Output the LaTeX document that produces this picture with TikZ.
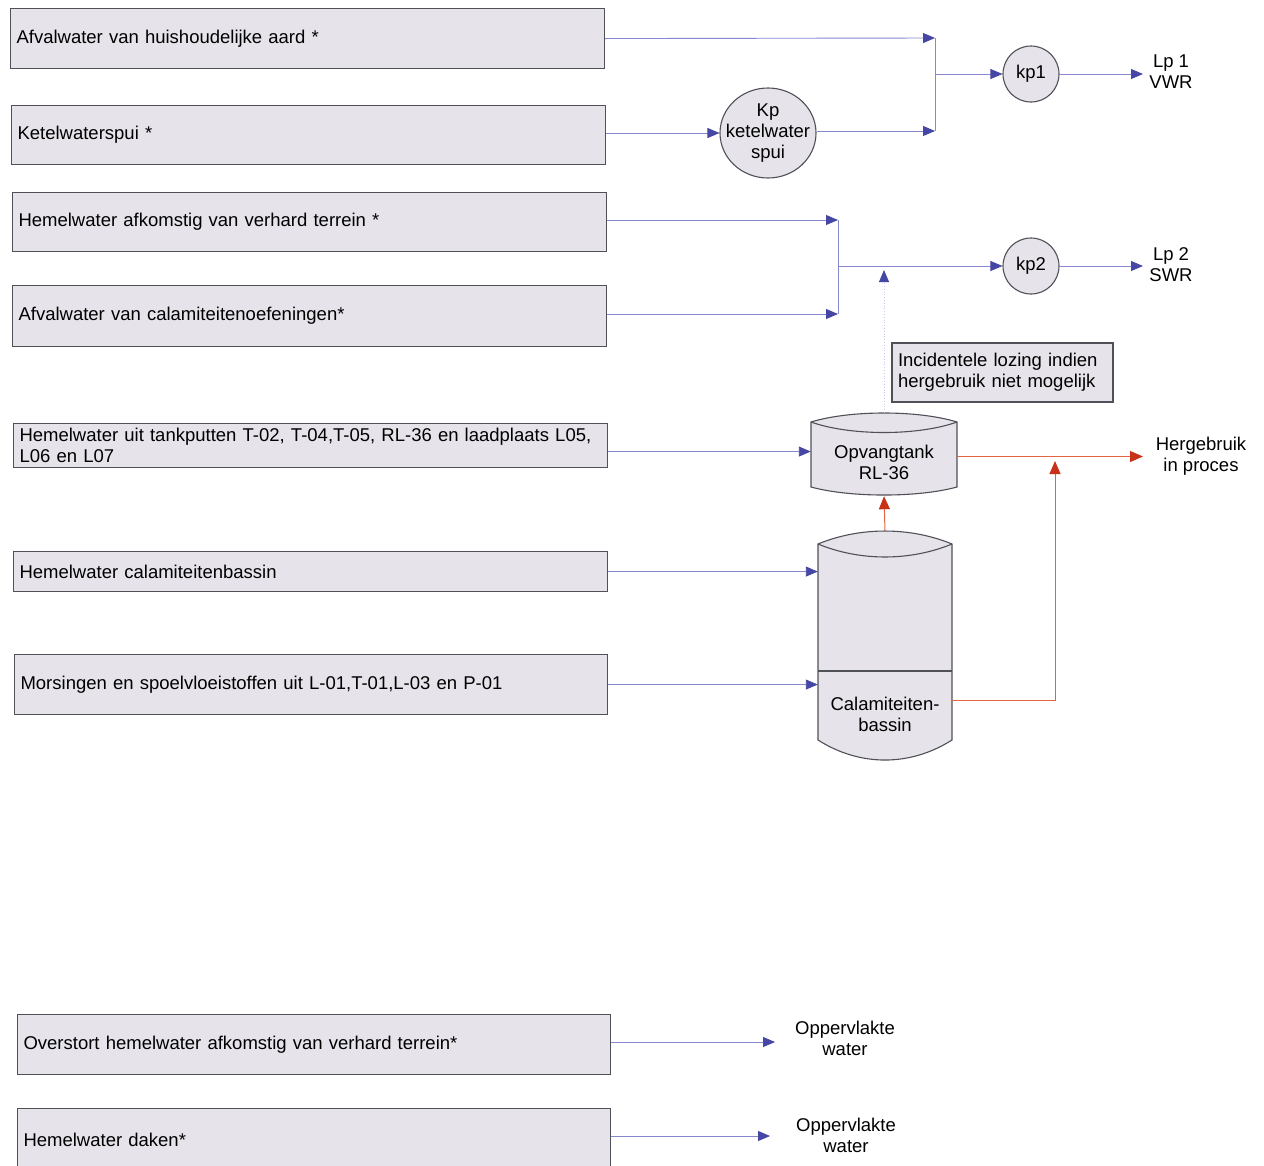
\documentclass[tikz,border=0pt]{standalone}
\usepackage{fontspec}
\setmainfont{Liberation Sans}
\usetikzlibrary{arrows.meta,shapes.geometric}
\definecolor{boxfill}{RGB}{230,228,234}
\definecolor{boxline}{RGB}{80,80,88}
\definecolor{flowline}{RGB}{135,135,210}
\definecolor{tipblue}{RGB}{70,70,165}
\definecolor{redline}{RGB}{228,100,65}
\definecolor{redtip}{RGB}{200,50,25}
\tikzset{
  txt/.style={font=\fontsize{18.5}{21}\selectfont},
  srcbox/.style={txt, draw=boxline, fill=boxfill, line width=1.1pt, anchor=north west,
    align=left, inner xsep=6pt, inner ysep=0pt},
  pit/.style={txt, draw=boxline, fill=boxfill, line width=1.1pt, inner sep=0pt, align=center},
  lbl/.style={txt, align=center, inner sep=0pt},
  tankarea/.style={inner sep=0pt},
  tankbody/.style={draw=boxline, fill=boxfill, line width=1.1pt},
  flow/.style={draw=flowline, line width=0.9pt, -{Triangle[length=12pt,width=10pt,color=tipblue]}},
  plainline/.style={draw=flowline, line width=0.9pt},
  reuse/.style={draw=redline, line width=1pt, -{Triangle[length=13pt,width=11pt,color=redtip]}},
  faint/.style={draw=flowline!45, dotted, line width=0.8pt, -{Triangle[length=12pt,width=10pt,color=tipblue]}},
}
\begin{document}
\begin{tikzpicture}[x=1pt,y=-1pt]
\useasboundingbox[fill=white] (0,0) rectangle (1264,1165);

% source boxes
\node[srcbox, text width=582pt, minimum height=60pt] (b1) at (10,8) {Afvalwater van huishoudelijke aard *};
\node[srcbox, text width=582pt, minimum height=59pt] (b2) at (11,105) {Ketelwaterspui *};
\node[srcbox, text width=582pt, minimum height=59pt] (b3) at (12,192) {Hemelwater afkomstig van verhard terrein *};
\node[srcbox, text width=582pt, minimum height=61pt] (b4) at (12,285) {Afvalwater van calamiteitenoefeningen*};
\node[srcbox, text width=582pt, minimum height=44pt] (b5) at (13,423) {Hemelwater uit tankputten T-02, T-04,T-05, RL-36 en laadplaats L05,\\L06 en L07};
\node[srcbox, text width=582pt, minimum height=40pt] (b6) at (13,551) {Hemelwater calamiteitenbassin};
\node[srcbox, text width=581pt, minimum height=60pt] (b7) at (14,654) {Morsingen en spoelvloeistoffen uit L-01,T-01,L-03 en P-01};
\node[srcbox, text width=581pt, minimum height=60pt] (b8) at (17,1014) {Overstort hemelwater afkomstig van verhard terrein*};
\node[srcbox, text width=581pt, minimum height=62pt] (b9) at (17,1108) {Hemelwater daken*};

% pits
\node[pit, ellipse, inner xsep=-10pt, inner ysep=0pt, minimum width=96pt, minimum height=90pt] (kp) at (768,133) {Kp\\ketelwater\\spui};
\node[pit, circle, minimum size=56pt] (kp1) at (1031,74) {kp1};
\node[pit, circle, minimum size=56pt] (kp2) at (1031,266) {kp2};

% note
\node[txt, draw=boxline, fill=boxfill, line width=1.1pt, align=left, inner xsep=6pt, inner ysep=0pt,
      text width=209pt, minimum height=59pt] (note) at (1002.5,372.5) {Incidentele lozing indien\\hergebruik niet mogelijk};

% tanks
\path[tankbody] (811,422) .. controls (850,410) and (918,410) .. (957,422) -- (957,487)
  .. controls (918,497.7) and (850,497.7) .. (811,487) -- cycle;
\draw[boxline, line width=1.1pt] (811,422) .. controls (850,436) and (918,436) .. (957,422);
\node[tankarea, minimum width=146pt, minimum height=83pt] (opv) at (884,454.5) {};
\node[lbl] (opvtxt) at (884,462) {Opvangtank\\RL-36};

\path[tankbody] (818,544) .. controls (860,526.7) and (910,526.7) .. (952,544) -- (952,740)
  .. controls (910,766.7) and (860,766.7) .. (818,740) -- cycle;
\draw[boxline, line width=1.1pt] (818,544) .. controls (860,561.3) and (910,561.3) .. (952,544);
\draw[boxline, line width=1.1pt] (818,671) -- (952,671);
\node[tankarea, minimum width=134pt, minimum height=229pt] (cal) at (885,645.5) {};
\node[lbl] (caltxt) at (885,714) {Calamiteiten-\\bassin};

% labels
\node[lbl] (lp1) at (1171,72) {Lp 1\\VWR};
\node[lbl] (lp2) at (1171,265) {Lp 2\\SWR};
\node[lbl] (hgb) at (1201,456) {Hergebruik\\in proces};
\node[lbl] (ow1) at (845,1038) {Oppervlakte\\water};
\node[lbl] (ow2) at (846,1135) {Oppervlakte\\water};

% junction / tip coordinates
\coordinate (j1a) at (935,38);
\coordinate (j1b) at (935,131);
\coordinate (j1m) at (935,74);
\coordinate (j2a) at (838,220);
\coordinate (j2b) at (838,314);
\coordinate (j2m) at (838,266);
\coordinate (t1) at (1143,74);
\coordinate (t2) at (1143,266);
\coordinate (t3) at (1143,456.5);
\coordinate (t4) at (775,1042);
\coordinate (t5) at (770,1136);
\coordinate (ntip) at (884,270);
\coordinate (r1) at (1055,700);
\coordinate (r2) at (1055,461);

% blue flows
\draw[flow] (b1.east) -- (j1a);
\draw[flow] (b2.east |- kp.west) -- (kp.west);
\draw[flow] (kp.east |- j1b) -- (j1b);
\draw[plainline] (j1a) -- (j1b);
\draw[flow] (j1m) -- (kp1.west);
\draw[flow] (kp1.east) -- (t1);

\draw[flow] (b3.east |- j2a) -- (j2a);
\draw[flow] (b4.east |- j2b) -- (j2b);
\draw[plainline] (j2a) -- (j2b);
\draw[flow] (j2m) -- (kp2.west);
\draw[flow] (kp2.east) -- (t2);
\draw[faint] (opv.north) -- (ntip);

\draw[flow] ([yshift=-6pt]b5.east) -- ([yshift=-6pt]b5.east -| opv.west);
\draw[flow] (b6.east) -- (b6.east -| cal.west);
\draw[flow] (b7.east) -- (b7.east -| cal.west);

\draw[flow] (b8.east |- t4) -- (t4);
\draw[flow] (b9.east |- t5) -- (t5);

% red reuse flows
\draw[reuse] (cal.north) -- (opv.south);
\draw[reuse] (opv.east |- t3) -- (t3);
\draw[reuse] (cal.east |- r1) -- (r1) -- (r2);
\end{tikzpicture}
\end{document}
